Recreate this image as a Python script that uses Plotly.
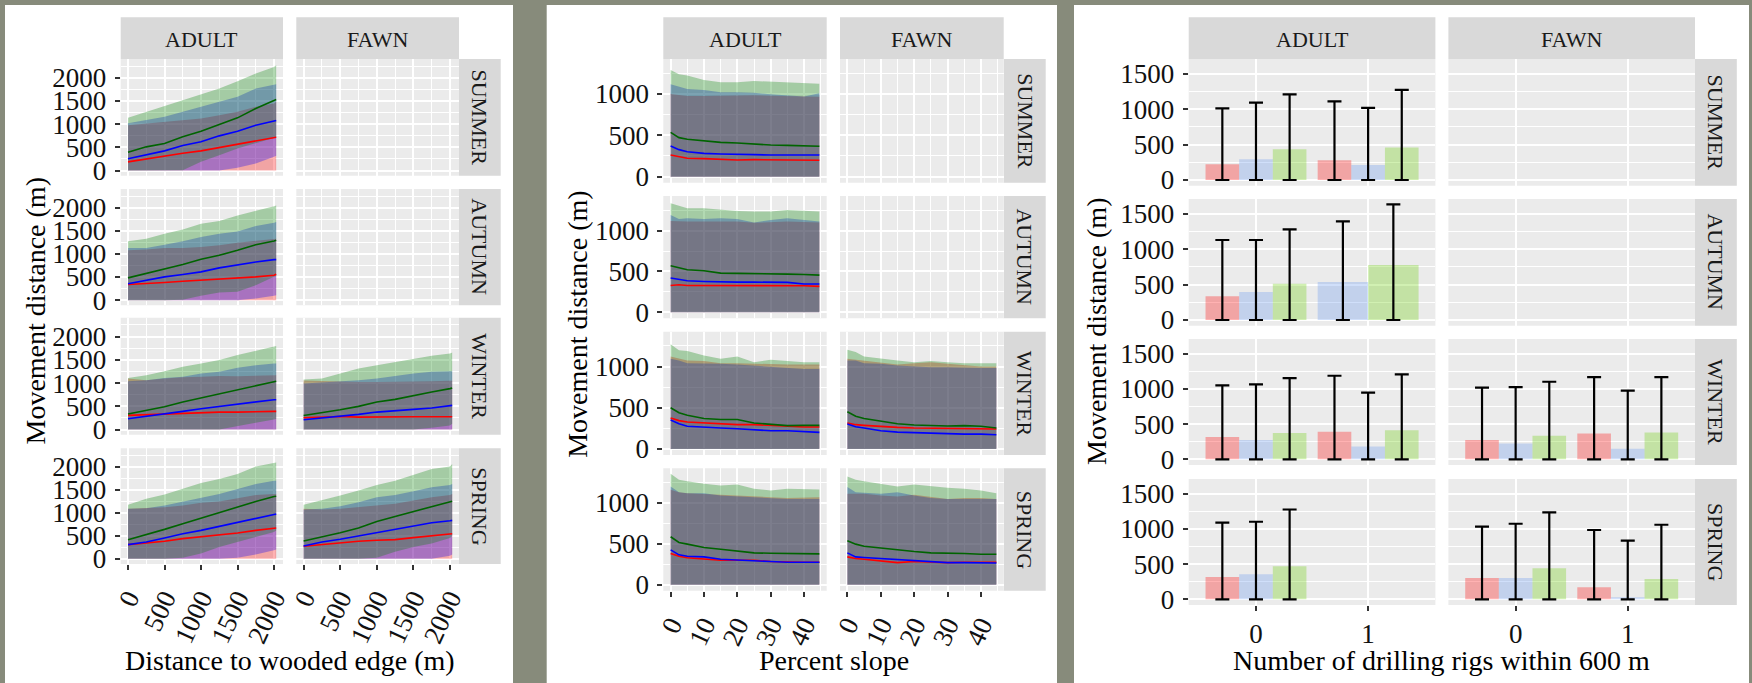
import plotly.graph_objects as go

W, H = 1752, 683

# ------------------------------------------------------------------ data
SEASONS = ["SUMMER", "AUTUMN", "WINTER", "SPRING"]
AGES = ["ADULT", "FAWN"]
SERIES = ["red", "blue", "green"]

# ---- panel 1: distance to wooded edge (m); lists ordered red, blue, green
EDGE_X = [0, 250, 500, 750, 1000, 1250, 1500, 1750, 2000, 2030]
EDGE_ZERO = [0, 0, 0, 0, 0, 0, 0, 0, 0, 0]

edge_summer_adult_mid = [[187, 252, 317, 374, 424, 496, 561, 647, 712, 719],
                         [252, 345, 424, 540, 619, 748, 849, 978, 1079, 1079],
                         [396, 511, 583, 727, 849, 993, 1137, 1338, 1496, 1532]]
edge_summer_adult_hi = [[978, 1014, 1050, 1086, 1122, 1194, 1266, 1374, 1446, 1482],
                        [1022, 1086, 1158, 1266, 1374, 1482, 1590, 1770, 1856, 1863],
                        [1137, 1266, 1396, 1511, 1640, 1770, 1928, 2094, 2237, 2273]]
edge_summer_adult_lo = [EDGE_ZERO,
                        [0, 0, 0, 0, 0, 0, 58, 151, 295, 317],
                        [0, 0, 0, 7, 187, 331, 475, 583, 705, 719]]

edge_autumn_adult_mid = [[338, 353, 381, 410, 432, 453, 489, 504, 540, 561],
                         [353, 424, 504, 554, 612, 698, 770, 827, 878, 878],
                         [482, 576, 676, 770, 885, 971, 1079, 1201, 1281, 1295]]
edge_autumn_adult_hi = [[1079, 1094, 1129, 1129, 1151, 1187, 1245, 1281, 1317, 1331],
                        [1129, 1129, 1201, 1273, 1367, 1439, 1489, 1604, 1676, 1691],
                        [1273, 1331, 1439, 1532, 1655, 1712, 1835, 1928, 2036, 2050]]
edge_autumn_adult_lo = [EDGE_ZERO,
                        [0, 0, 0, 0, 0, 0, 0, 36, 94, 108],
                        [0, 0, 0, 10, 94, 165, 180, 324, 504, 518]]

edge_winter_adult_mid = [[303, 317, 339, 354, 375, 375, 375, 390, 390, 390],
                         [231, 289, 339, 390, 447, 498, 556, 592, 642, 642],
                         [332, 411, 490, 592, 678, 772, 866, 938, 1025, 1039]]
edge_winter_adult_hi = [[1097, 1061, 1097, 1126, 1133, 1154, 1147, 1154, 1154, 1169],
                        [1039, 1061, 1111, 1133, 1205, 1241, 1328, 1385, 1421, 1421],
                        [1111, 1169, 1255, 1349, 1421, 1494, 1602, 1688, 1782, 1797]]
edge_winter_adult_lo = [EDGE_ZERO, EDGE_ZERO,
                        [0, 0, 0, 0, 0, 0, 72, 144, 216, 231]]

edge_winter_fawn_mid = [[253, 267, 281, 267, 274, 274, 274, 274, 274, 274],
                        [209, 245, 281, 325, 375, 397, 433, 462, 505, 519],
                        [303, 361, 426, 498, 592, 649, 736, 808, 880, 895]]
edge_winter_fawn_hi = [[1054, 1039, 1025, 1025, 1025, 1025, 1025, 1039, 1047, 1047],
                       [988, 1010, 1025, 1061, 1097, 1154, 1205, 1241, 1255, 1255],
                       [1075, 1097, 1205, 1313, 1385, 1457, 1530, 1587, 1638, 1659]]
edge_winter_fawn_lo = [EDGE_ZERO, EDGE_ZERO,
                       [0, 0, 0, 0, 0, 0, 0, 36, 87, 123]]

edge_spring_adult_mid = [[310, 346, 382, 440, 476, 527, 563, 620, 657, 671],
                         [310, 368, 455, 548, 620, 707, 801, 895, 967, 974],
                         [418, 527, 642, 765, 887, 1017, 1140, 1248, 1356, 1364]]
edge_spring_adult_hi = [[1090, 1104, 1126, 1162, 1219, 1248, 1320, 1392, 1414, 1414],
                        [1090, 1104, 1162, 1248, 1342, 1414, 1522, 1631, 1703, 1703],
                        [1176, 1306, 1400, 1522, 1652, 1739, 1847, 2013, 2085, 2100]]
edge_spring_adult_lo = [EDGE_ZERO,
                        [0, 0, 0, 0, 0, 0, 22, 94, 188, 202],
                        [0, 0, 0, 22, 115, 260, 368, 476, 584, 620]]

edge_spring_fawn_mid = [[274, 310, 353, 382, 404, 418, 462, 498, 534, 548],
                        [281, 368, 426, 498, 570, 642, 714, 786, 830, 837],
                        [390, 476, 570, 671, 815, 924, 1032, 1126, 1234, 1255]]
edge_spring_fawn_hi = [[1090, 1075, 1090, 1126, 1176, 1198, 1270, 1342, 1392, 1414],
                       [1075, 1090, 1147, 1234, 1342, 1392, 1472, 1558, 1609, 1631],
                       [1176, 1270, 1378, 1486, 1609, 1703, 1825, 1955, 2013, 2063]]
edge_spring_fawn_lo = [EDGE_ZERO,
                       [0, 0, 0, 0, 0, 0, 0, 0, 65, 94],
                       [0, 0, 0, 0, 22, 152, 260, 332, 455, 498]]

# ---- panel 2: percent slope; lists ordered red, blue, green
SLOPE_X = [0, 2.5, 5, 10, 15, 20, 25, 30, 35, 40, 44.6]
SLOPE_ZERO = [0, 0, 0, 0, 0, 0, 0, 0, 0, 0, 0]

slope_summer_adult_mid = [[262, 238, 222, 218, 206, 202, 206, 202, 198, 198, 198],
                          [371, 327, 302, 282, 274, 274, 266, 262, 262, 262, 262],
                          [536, 472, 452, 431, 415, 407, 391, 383, 379, 371, 367]]
slope_summer_adult_hi = [[1000, 985, 975, 975, 980, 985, 985, 980, 975, 970, 965],
                         [1117, 1089, 1060, 1048, 1020, 1020, 1016, 996, 985, 968, 1008],
                         [1290, 1238, 1222, 1169, 1141, 1141, 1157, 1149, 1141, 1129, 1125]]

slope_autumn_adult_mid = [[329, 337, 329, 329, 329, 329, 333, 333, 329, 325, 317],
                          [419, 398, 386, 378, 370, 370, 370, 370, 366, 346, 346],
                          [569, 541, 520, 508, 480, 476, 476, 467, 467, 463, 455]]
slope_autumn_adult_hi = [[1118, 1110, 1110, 1110, 1110, 1110, 1095, 1105, 1110, 1105, 1100],
                         [1191, 1142, 1150, 1142, 1150, 1142, 1100, 1130, 1150, 1130, 1110],
                         [1333, 1305, 1272, 1272, 1252, 1240, 1232, 1232, 1252, 1240, 1232]]

slope_winter_adult_mid = [[377, 344, 328, 316, 303, 295, 295, 283, 270, 266, 266],
                          [352, 307, 275, 262, 254, 246, 234, 221, 221, 213, 201],
                          [500, 439, 410, 369, 357, 357, 316, 303, 283, 287, 287]]
slope_winter_adult_hi = [[1123, 1094, 1074, 1066, 1041, 1041, 1033, 1025, 1025, 1025, 1025],
                         [1094, 1074, 1041, 1041, 1033, 1025, 1012, 1000, 984, 971, 971],
                         [1270, 1197, 1189, 1135, 1094, 1123, 1053, 1082, 1066, 1053, 1053]]

slope_winter_fawn_mid = [[316, 295, 287, 270, 262, 254, 250, 246, 242, 242, 242],
                         [303, 270, 254, 221, 205, 197, 193, 189, 180, 180, 172],
                         [451, 398, 369, 336, 307, 291, 283, 279, 283, 275, 254]]
slope_winter_fawn_hi = [[1094, 1082, 1074, 1041, 1025, 1041, 1053, 1033, 1012, 1000, 1000],
                        [1074, 1074, 1041, 1033, 1012, 1000, 992, 992, 984, 984, 984],
                        [1205, 1176, 1123, 1094, 1074, 1053, 1066, 1053, 1041, 1041, 1041]]

slope_spring_adult_mid = [[381, 348, 330, 316, 299, 299, 299, 283, 275, 275, 275],
                          [426, 365, 348, 340, 311, 299, 291, 283, 275, 275, 275],
                          [586, 516, 496, 455, 434, 414, 389, 385, 385, 377, 377]]
slope_spring_adult_hi = [[1160, 1131, 1119, 1111, 1102, 1090, 1078, 1070, 1061, 1061, 1070],
                         [1201, 1131, 1119, 1119, 1090, 1078, 1070, 1061, 1049, 1049, 1049],
                         [1357, 1283, 1266, 1234, 1213, 1225, 1172, 1152, 1172, 1172, 1164]]

slope_spring_fawn_mid = [[340, 320, 311, 291, 270, 283, 275, 270, 275, 275, 275],
                         [389, 340, 332, 320, 303, 299, 283, 270, 270, 266, 266],
                         [537, 496, 471, 447, 422, 406, 389, 389, 381, 373, 373]]
slope_spring_fawn_hi = [[1111, 1111, 1111, 1090, 1078, 1100, 1070, 1049, 1061, 1061, 1049],
                        [1193, 1131, 1123, 1111, 1130, 1090, 1061, 1049, 1049, 1049, 1049],
                        [1324, 1283, 1266, 1234, 1201, 1225, 1201, 1184, 1172, 1152, 1119]]

# ---- panel 3: drilling rigs; lists ordered red, blue, green, each [0 rigs, 1 rig]
RIG_X = [0, 1]
RIG_TICKS = ["0", "1"]
rig_summer_adult_mean = [[222, 278], [292, 212], [434, 458]]
rig_summer_adult_upper = [[1014, 1113], [1094, 1019], [1212, 1274]]
rig_autumn_adult_mean = [[335, None], [396, 538], [514, 778]]
rig_autumn_adult_upper = [[1132, None], [1132, 1396], [1283, 1637]]
rig_winter_adult_mean = [[316, 392], [274, 184], [373, 415]]
rig_winter_adult_upper = [[1052, 1189], [1066, 948], [1156, 1208]]
rig_winter_fawn_mean = [[274, 368], [226, 151], [335, 382]]
rig_winter_fawn_upper = [[1019, 1170], [1028, 976], [1104, 1170]]
rig_spring_adult_mean = [[316, None], [358, None], [472, None]]
rig_spring_adult_upper = [[1090, None], [1104, None], [1278, None]]
rig_spring_fawn_mean = [[302, 170], [302, 28], [443, 288]]
rig_spring_fawn_upper = [[1033, 986], [1075, 835], [1236, 1061]]

EDGE_TICKS = [0, 500, 1000, 1500, 2000]
SLOPE_TICKS = [0, 10, 20, 30, 40]

# --------------------------------------------------------------- styling
FONT = "Liberation Serif, Times New Roman, serif"
BG = "#878B7B"
PANEL_BG = "#EBEBEB"
STRIP_BG = "#D9D9D9"
RIBBON_FILL = ["rgba(255,0,0,0.3)", "rgba(0,0,255,0.3)", "rgba(0,128,0,0.3)"]
LINE_COL = ["#FF0000", "#0000FF", "#006400"]
BAR_FILL = ["rgba(255,0,0,0.3)", "rgba(100,149,237,0.3)", "rgba(102,205,0,0.3)"]
TICK_FONT = 27
STRIP_FONT = 22
TITLE_FONT = 28

PANELS = {
    "edge": dict(white=(5, 5, 513, 683),
                 cols=[(120.7, 283.0), (296.3, 459.0)], rstrip=(459.0, 500.7),
                 rows=[(59.0, 175.7), (189.0, 305.3), (317.7, 434.7), (448.3, 564.0)],
                 xr=[-100, 2123], yr=[-112, 2407],
                 xmaj=EDGE_TICKS, xmin=[250, 750, 1250, 1750],
                 ymaj=[0, 500, 1000, 1500, 2000], ymin=[250, 750, 1250, 1750, 2250],
                 xangle=-65, xstand=2, xtitle="Distance to wooded edge (m)", ytitle_x=35),
    "slope": dict(white=(546.7, 5, 1057, 683),
                  cols=[(663.3, 826.7), (840.0, 1003.7)], rstrip=(1003.7, 1045.7),
                  rows=[(59.0, 182.7), (196.0, 318.3), (331.7, 455.0), (468.3, 590.7)],
                  xr=[-2.2, 46.8], yr=[-73, 1423],
                  xmaj=SLOPE_TICKS, xmin=[5, 15, 25, 35, 45],
                  ymaj=[0, 500, 1000], ymin=[250, 750, 1250],
                  xangle=-65, xstand=2, xtitle="Percent slope", ytitle_x=578),
    "rig": dict(white=(1074, 5, 1749, 683),
                cols=[(1188.7, 1435.4), (1448.4, 1695.0)], rstrip=(1695.0, 1736.8),
                rows=[(59.0, 185.7), (199.0, 325.7), (339.0, 465.0), (479.0, 605.0)],
                xr=[-0.6, 1.6], yr=[-81, 1712],
                xmaj=RIG_X, xmin=[],
                ymaj=[0, 500, 1000, 1500], ymin=[250, 750, 1250],
                xangle=0, xstand=0, xtitle="Number of drilling rigs within 600 m", ytitle_x=1096),
}
STRIP_TOP = 17.3
XTITLE_Y = 660

EDGE_DATA = {
    ("SUMMER", "ADULT"): (edge_summer_adult_mid, edge_summer_adult_lo, edge_summer_adult_hi),
    ("AUTUMN", "ADULT"): (edge_autumn_adult_mid, edge_autumn_adult_lo, edge_autumn_adult_hi),
    ("WINTER", "ADULT"): (edge_winter_adult_mid, edge_winter_adult_lo, edge_winter_adult_hi),
    ("WINTER", "FAWN"): (edge_winter_fawn_mid, edge_winter_fawn_lo, edge_winter_fawn_hi),
    ("SPRING", "ADULT"): (edge_spring_adult_mid, edge_spring_adult_lo, edge_spring_adult_hi),
    ("SPRING", "FAWN"): (edge_spring_fawn_mid, edge_spring_fawn_lo, edge_spring_fawn_hi),
}
SLOPE_DATA = {
    ("SUMMER", "ADULT"): (slope_summer_adult_mid, [SLOPE_ZERO] * 3, slope_summer_adult_hi),
    ("AUTUMN", "ADULT"): (slope_autumn_adult_mid, [SLOPE_ZERO] * 3, slope_autumn_adult_hi),
    ("WINTER", "ADULT"): (slope_winter_adult_mid, [SLOPE_ZERO] * 3, slope_winter_adult_hi),
    ("WINTER", "FAWN"): (slope_winter_fawn_mid, [SLOPE_ZERO] * 3, slope_winter_fawn_hi),
    ("SPRING", "ADULT"): (slope_spring_adult_mid, [SLOPE_ZERO] * 3, slope_spring_adult_hi),
    ("SPRING", "FAWN"): (slope_spring_fawn_mid, [SLOPE_ZERO] * 3, slope_spring_fawn_hi),
}
RIG_DATA = {
    ("SUMMER", "ADULT"): (rig_summer_adult_mean, rig_summer_adult_upper),
    ("AUTUMN", "ADULT"): (rig_autumn_adult_mean, rig_autumn_adult_upper),
    ("WINTER", "ADULT"): (rig_winter_adult_mean, rig_winter_adult_upper),
    ("WINTER", "FAWN"): (rig_winter_fawn_mean, rig_winter_fawn_upper),
    ("SPRING", "ADULT"): (rig_spring_adult_mean, rig_spring_adult_upper),
    ("SPRING", "FAWN"): (rig_spring_fawn_mean, rig_spring_fawn_upper),
}

# ------------------------------------------------------------ building
fig = go.Figure()
layout_axes = {}
shapes = []
annotations = []
counter = [0]


def fxp(px):
    return px / W


def fyp(py):
    return 1 - py / H


def rect(x0, y0, x1, y1, color):
    shapes.append(dict(type="rect", xref="paper", yref="paper", layer="below",
                       x0=fxp(x0), x1=fxp(x1), y0=fyp(y1), y1=fyp(y0),
                       fillcolor=color, line=dict(width=0)))


def text(x, y, s, size, angle=0, color="#1A1A1A"):
    annotations.append(dict(xref="paper", yref="paper", x=fxp(x), y=fyp(y), text=s,
                            showarrow=False, textangle=angle, xanchor="center",
                            yanchor="middle", font=dict(family=FONT, size=size, color=color)))


def add_axes(p, ri, ci):
    counter[0] += 1
    n = counter[0]
    sx = "" if n == 1 else str(n)
    (x0, x1), (y0, y1) = p["cols"][ci], p["rows"][ri]
    bottom = ri == 3
    left = ci == 0
    tickfont = dict(family=FONT, size=TICK_FONT, color="#111111")
    xa = dict(domain=[fxp(x0), fxp(x1)], range=p["xr"], anchor="y" + sx,
              tickvals=p["xmaj"], showgrid=True, gridcolor="white", gridwidth=2,
              minor=dict(tickvals=p["xmin"], showgrid=True, gridcolor="white",
                         gridwidth=1, ticks=""),
              zeroline=False, showline=False, fixedrange=True, automargin=False,
              ticks="outside" if bottom else "", ticklen=5, tickwidth=1.5,
              tickcolor="#333333", showticklabels=bottom, tickfont=tickfont,
              tickangle=p["xangle"], ticklabelstandoff=p["xstand"])
    if p is PANELS["rig"]:
        xa["ticktext"] = RIG_TICKS
    ya = dict(domain=[fyp(y1), fyp(y0)], range=p["yr"], anchor="x" + sx,
              tickvals=p["ymaj"], showgrid=True, gridcolor="white", gridwidth=2,
              minor=dict(tickvals=p["ymin"], showgrid=True, gridcolor="white",
                         gridwidth=1, ticks=""),
              zeroline=False, showline=False, fixedrange=True, automargin=False,
              ticks="outside" if left else "", ticklen=5, tickwidth=1.5,
              tickcolor="#333333", showticklabels=left, tickfont=tickfont,
              ticklabelstandoff=3)
    layout_axes["xaxis" + sx] = xa
    layout_axes["yaxis" + sx] = ya
    rect(x0, y0, x1, y1, PANEL_BG)
    return "x" + sx, "y" + sx


def add_ribbons(xv, mid, lo, hi, xr, yr):
    for k in range(3):
        fig.add_trace(go.Scatter(x=xv + xv[::-1], y=hi[k] + lo[k][::-1], fill="toself",
                                 fillcolor=RIBBON_FILL[k], mode="lines",
                                 line=dict(width=0, color="rgba(0,0,0,0)"),
                                 hoverinfo="skip", showlegend=False, xaxis=xr, yaxis=yr))
    for k in range(3):
        fig.add_trace(go.Scatter(x=xv, y=mid[k], mode="lines",
                                 line=dict(color=LINE_COL[k], width=1.6),
                                 showlegend=False, name=SERIES[k], xaxis=xr, yaxis=yr))


def add_bars(mean, upper, xr, yr):
    for k in range(3):
        widths, offsets, plus, minus = [], [], [], []
        for g in range(len(RIG_X)):
            present = [c for c in range(3) if mean[c][g] is not None]
            if mean[k][g] is None:
                widths.append(0.3)
                offsets.append(0)
                plus.append(None)
                minus.append(None)
            else:
                w = 0.9 / len(present)
                widths.append(w)
                offsets.append(-0.45 + present.index(k) * w)
                plus.append(upper[k][g] - mean[k][g])
                minus.append(mean[k][g])
        fig.add_trace(go.Bar(x=RIG_X, y=mean[k], width=widths, offset=offsets,
                             marker=dict(color=BAR_FILL[k], line=dict(width=0)),
                             error_y=dict(type="data", symmetric=False, array=plus,
                                          arrayminus=minus, color="black",
                                          thickness=2.2, width=7),
                             showlegend=False, name=SERIES[k], xaxis=xr, yaxis=yr))


def add_empty(xr, yr):
    fig.add_trace(go.Scatter(x=[None], y=[None], mode="markers", hoverinfo="skip",
                             showlegend=False, xaxis=xr, yaxis=yr))


for key, p in PANELS.items():
    wx0, wy0, wx1, wy1 = p["white"]
    rect(wx0, wy0, wx1, wy1, "white")
    for ci, age in enumerate(AGES):
        cx0, cx1 = p["cols"][ci]
        rect(cx0, STRIP_TOP, cx1, p["rows"][0][0], STRIP_BG)
        text((cx0 + cx1) / 2, (STRIP_TOP + p["rows"][0][0]) / 2 + 1, age, STRIP_FONT)
    for ri, season in enumerate(SEASONS):
        ry0, ry1 = p["rows"][ri]
        sx0, sx1 = p["rstrip"]
        rect(sx0, ry0, sx1, ry1, STRIP_BG)
        text((sx0 + sx1) / 2, (ry0 + ry1) / 2, season, STRIP_FONT, angle=90)
        for ci, age in enumerate(AGES):
            xr, yr = add_axes(p, ri, ci)
            if key == "edge" and (season, age) in EDGE_DATA:
                mid, lo, hi = EDGE_DATA[(season, age)]
                add_ribbons(EDGE_X, mid, lo, hi, xr, yr)
            elif key == "slope" and (season, age) in SLOPE_DATA:
                mid, lo, hi = SLOPE_DATA[(season, age)]
                add_ribbons(SLOPE_X, mid, lo, hi, xr, yr)
            elif key == "rig" and (season, age) in RIG_DATA:
                mean, upper = RIG_DATA[(season, age)]
                add_bars(mean, upper, xr, yr)
            else:
                add_empty(xr, yr)
    # axis titles
    text((p["cols"][0][0] + p["cols"][1][1]) / 2, XTITLE_Y, p["xtitle"], TITLE_FONT, color="black")
    text(p["ytitle_x"], (p["rows"][0][0] + p["rows"][3][1]) / 2,
         "Movement distance (m)", TITLE_FONT, angle=-90, color="black")

fig.update_layout(
    width=W, height=H, margin=dict(l=0, r=0, t=0, b=0, pad=0, autoexpand=False),
    paper_bgcolor=BG, plot_bgcolor="rgba(0,0,0,0)",
    barmode="overlay", showlegend=False,
    shapes=shapes, annotations=annotations,
    font=dict(family=FONT, color="#111111"),
    **layout_axes,
)

fig.write_html("out.html", config={"displayModeBar": False},
               post_script="document.body.style.margin='0';document.body.style.overflow='hidden';")
